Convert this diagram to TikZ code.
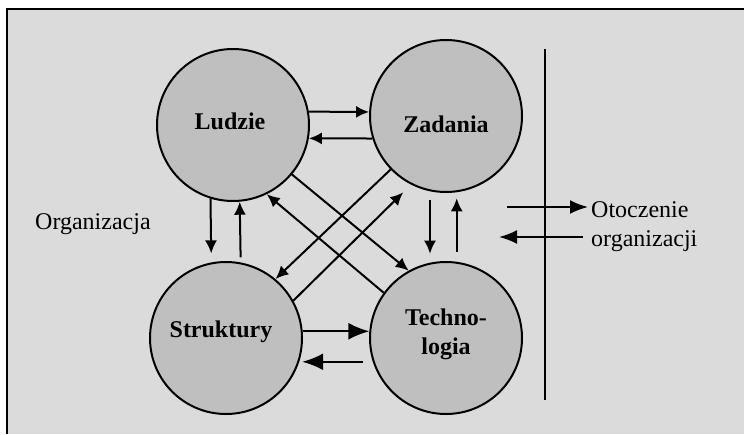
\documentclass[tikz,border=0pt]{standalone}
\usepackage{fontspec}
\setmainfont{Liberation Serif}
\usetikzlibrary{arrows.meta}

\definecolor{tlo}{gray}{0.86}
\definecolor{kulafill}{gray}{0.75}

\tikzset{
	kula/.style={circle, draw, line width=2pt, fill=kulafill, minimum size=152pt, inner sep=0pt},
	napis/.style={font=\fontsize{24}{29}\selectfont\bfseries, inner sep=0pt},
	tekst/.style={font=\fontsize{24}{29}\selectfont, inner sep=0pt},
	strz/.style={line width=2pt, -{Latex[length=13pt,width=12pt]}},
	grubastrz/.style={line width=2pt, -{Latex[length=21pt,width=17pt]}},
	zewstrz/.style={line width=2pt, -{Latex[length=18pt,width=14pt]}},
}

\begin{document}
\begin{tikzpicture}[x=1pt, y=-1pt]
		%%%%% START %%%%%
		\useasboundingbox (0, 0) rectangle (744, 434);
		\fill[tlo] (7, 9) rectangle (744, 434);
		\draw[line width=2pt] (6, 9) -- (744, 9);
		\draw[line width=2pt] (7, 9) -- (7, 434);
		
		% four elements of the organization
		\node[kula] (L) at (233, 125) {};
		\node[kula] (Z) at (446, 116) {};
		\node[kula] (S) at (226, 338) {};
		\node[kula] (T) at (446, 338) {};
		
		\node[napis, anchor=base] (Llbl) at (230, 129) {Ludzie};
		\node[napis, anchor=base] (Zlbl) at (446, 132) {Zadania};
		\node[napis, anchor=base] (Slbl) at (221, 337) {Struktury};
		\node[napis, align=center] (Tlbl) at (446, 334) {Techno-\\logia};
		
		% top pair
		\draw[strz] (L.10) -- (Z.177);
		\draw[strz] (Z.197) -- (L.350);
		
		% left pair
		\draw[strz, shorten >=9pt] (L.253) -- (S.101);
		\draw[strz, shorten <=5pt] (S.79) -- (L.275);
		
		% right pair
		\draw[strz, shorten <=9pt, shorten >=9pt] (Z.258) -- (T.102);
		\draw[strz, shorten <=10pt, shorten >=6pt] (T.82) -- (Z.278);
		
		% diagonals
		\draw[strz] (L.320) -- (T.119);
		\draw[strz] (T.144) -- (L.296);
		\draw[strz] (Z.224) -- (S.50);
		\draw[strz, shorten >=11pt] (S.29) -- (Z.243);
		
		% bottom pair
		\draw[grubastrz] (S.5) -- (T.175);
		\draw[grubastrz, shorten <=10pt, shorten >=3pt] (T.198) -- (S.342);
		
		% boundary and environment
		\draw[line width=2pt] (545, 49) -- (545, 400);
		\node[tekst, anchor=base west] (org) at (35, 229) {Organizacja};
		\node[tekst, align=left, anchor=west] (O) at (591, 227) {Otoczenie\\organizacji};
		\coordinate (wej) at (507, 207);
		\coordinate (wyj) at (499, 237);
		\draw[zewstrz, shorten >=3pt] (wej) -- (wej -| O.west);
		\draw[zewstrz, shorten <=8pt] (wyj -| O.west) -- (wyj);
		%%%%% END %%%%%
\end{tikzpicture}
\end{document}
